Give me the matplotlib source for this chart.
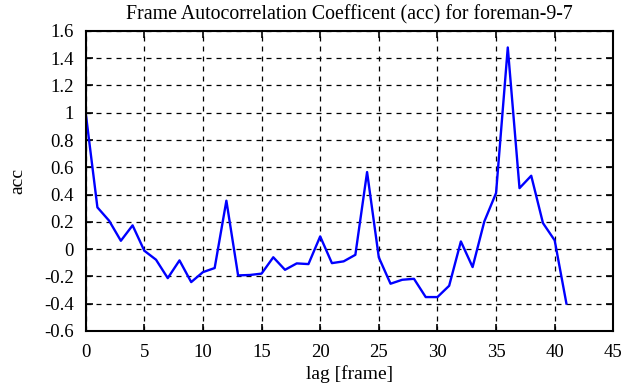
import numpy as np
import matplotlib.pyplot as plt
from matplotlib.ticker import FuncFormatter

# lag in frames and autocorrelation coefficient
lags = np.arange(0, 42)
acc = np.array([1.0, 0.306, 0.208, 0.061, 0.174, -0.012, -0.078, -0.213, -0.083, -0.242,
                -0.169, -0.139, 0.355, -0.193, -0.19, -0.18, -0.06, -0.152, -0.105, -0.11,
                0.093, -0.103, -0.09, -0.042, 0.565, -0.061, -0.254, -0.225, -0.218, -0.352,
                -0.352, -0.269, 0.056, -0.132, 0.203, 0.411, 1.479, 0.447, 0.538, 0.191,
                0.064, -0.399])

plt.rcParams['font.family'] = ['Liberation Serif', 'DejaVu Serif']
plt.rcParams['font.size'] = 13.5

fig = plt.figure(figsize=(6.3, 3.87), dpi=100)
ax = fig.add_axes([0.136, 0.145, 0.8375, 0.775])
ax.plot(lags, acc, color='#0000ff', linewidth=1.7)
ax.set_xlim(0, 45)
ax.set_ylim(-0.6, 1.6)
ax.set_xticks(np.arange(0, 46, 5))
ax.set_yticks(np.arange(-0.6, 1.61, 0.2))
ax.yaxis.set_major_formatter(FuncFormatter(lambda v, p: '%g' % round(v, 1)))
ax.tick_params(direction='in', top=True, right=True, length=5, width=1.2)
ax.tick_params(axis='x', pad=9.5)
ax.tick_params(axis='y', pad=8.5)
ax.grid(True, color='black', linestyle=(0, (4, 4)), linewidth=0.9)
for s in ax.spines.values():
    s.set_linewidth(1.5)
ax.set_xlabel("lag [frame]", fontsize=14, labelpad=3)
ax.set_ylabel("acc", fontsize=14, labelpad=13)
ax.set_title("Frame Autocorrelation Coefficent (acc) for foreman-9-7", fontsize=14.3, pad=8.5)
fig.savefig("out.png", dpi=100)
